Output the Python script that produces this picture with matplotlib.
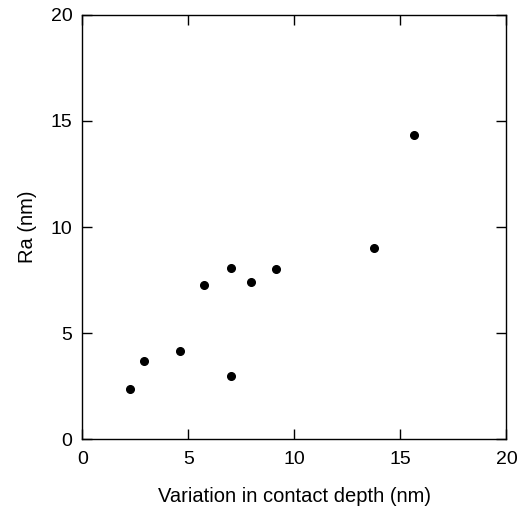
import matplotlib
matplotlib.use("Agg")
import matplotlib.pyplot as plt

x_depth = [2.25, 2.91, 4.61, 5.74, 7.01, 7.01, 7.96, 9.14, 13.76, 15.65]
y_ra = [2.37, 3.69, 4.17, 7.28, 8.08, 2.99, 7.42, 8.03, 9.02, 14.35]
ticks = [0, 5, 10, 15, 20]

plt.rcParams['font.family'] = ['Liberation Sans', 'DejaVu Sans']

fig = plt.figure(figsize=(5.21, 5.11), dpi=100)
ax = fig.add_axes([0.158, 0.140, 0.814, 0.831])
ax.plot(x_depth, y_ra, 'o', color='black', markersize=5.5)
ax.set_xlim(0, 20)
ax.set_ylim(0, 20)
ax.set_xticks(ticks)
ax.set_yticks(ticks)
ax.tick_params(axis='x', pad=8)
ax.tick_params(axis='y', pad=7)
ax.tick_params(direction='in', top=True, right=True, length=7, width=1, labelsize=14)
for s in ax.spines.values():
    s.set_linewidth(1)
ax.set_xlabel('Variation in contact depth (nm)', fontsize=14.5, labelpad=14)
ax.set_ylabel('Ra (nm)', fontsize=14.5, labelpad=10)
fig.savefig('out.png', dpi=100)
